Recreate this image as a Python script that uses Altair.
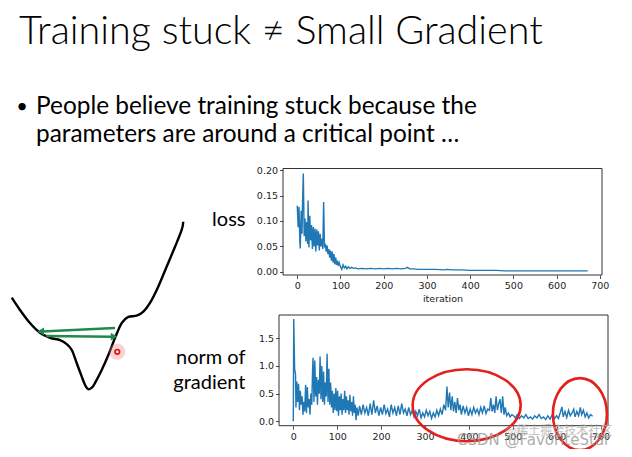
import altair as alt
import pandas as pd

# ---------------- text content ----------------
TITLE = "Training stuck ≠ Small Gradient"
BULLET = "•"
BULLET_LINES = ["People believe training stuck because the",
                "parameters are around a critical point …"]
LOSS_LABEL = "loss"
GRAD_LABEL = ["norm of", "gradient"]
X_TITLE = "iteration"
WATERMARK_1 = "CSDN @FavoriteStar"
WATERMARK_2 = "@稀土掘金技术社区"

# ---------------- loss curve ----------------
loss_iter = [0, 2, 4, 6, 7, 9, 11, 12, 14, 16, 18, 20, 22, 24, 25, 27, 29, 31, 33, 35,
             37, 39, 41, 43, 45, 47, 49, 51, 53, 55, 57, 59, 61, 63, 65, 67, 69, 71, 73, 75,
             77, 79, 81, 83, 85, 87, 89, 91, 93, 95, 97, 100, 103, 106, 109, 112, 115, 118, 122, 126,
             130, 135, 140, 150, 160, 170, 180, 190, 200, 210, 220, 230, 240, 250, 255, 260, 270, 280, 300, 320,
             340, 345, 360, 380, 400, 420, 440, 460, 480, 500, 530, 560, 590, 620, 650, 672]
loss_val = [0.130, 0.088, 0.128, 0.060, 0.046, 0.120, 0.075, 0.127, 0.193, 0.070, 0.105, 0.060, 0.098, 0.055, 0.140, 0.048, 0.110, 0.062, 0.092, 0.045,
            0.088, 0.050, 0.085, 0.040, 0.083, 0.052, 0.080, 0.042, 0.075, 0.050, 0.065, 0.045, 0.137, 0.048, 0.055, 0.040, 0.052, 0.035, 0.045, 0.028,
            0.042, 0.022, 0.040, 0.018, 0.035, 0.015, 0.028, 0.014, 0.022, 0.012, 0.018, 0.010, 0.005, 0.014, 0.008, 0.011, 0.006, 0.010, 0.007, 0.009,
            0.007, 0.008, 0.006, 0.007, 0.006, 0.007, 0.006, 0.007, 0.006, 0.007, 0.006, 0.007, 0.006, 0.007, 0.009, 0.006, 0.006, 0.005, 0.005, 0.005,
            0.004, 0.005, 0.004, 0.004, 0.003, 0.003, 0.003, 0.003, 0.002, 0.002, 0.002, 0.002, 0.002, 0.002, 0.002, 0.002]

# ---------------- gradient-norm curve ----------------
grad_iter = [0, 1, 3, 5, 6, 8, 10, 12, 14, 16, 18, 20, 22, 24, 26, 28, 30, 32, 34, 36,
             38, 40, 42, 44, 45, 47, 49, 51, 53, 55, 57, 59, 61, 63, 65, 67, 69, 71, 73, 75,
             77, 79, 81, 83, 85, 87, 89, 91, 93, 95, 97, 99, 101, 103, 105, 107, 109, 111, 113, 115,
             117, 119, 121, 123, 125, 127, 129, 131, 133, 135, 137, 139, 141, 143, 145, 148, 151, 155, 159, 163,
             167, 171, 175, 179, 183, 187, 191, 195, 199, 203, 207, 211, 215, 219, 223, 227, 231, 235, 239, 243,
             247, 251, 255, 259, 263, 267, 271, 275, 279, 283, 287, 291, 295, 299, 303, 307, 311, 315, 319, 323,
             327, 331, 335, 339, 343, 347, 350, 353, 356, 359, 362, 365, 368, 371, 374, 377, 380, 383, 387, 391,
             395, 399, 403, 407, 411, 415, 419, 423, 427, 431, 435, 439, 443, 447, 450, 453, 456, 459, 462, 465,
             468, 471, 474, 477, 480, 483, 486, 490, 494, 498, 502, 506, 510, 515, 520, 525, 530, 535, 540, 545,
             550, 555, 560, 565, 570, 575, 580, 585, 590, 595, 600, 604, 608, 612, 615, 619, 623, 627, 631, 635,
             639, 642, 646, 650, 654, 657, 661, 665, 669, 673, 677, 682]
grad_val = [0.00, 1.85, 0.95, 0.85, 0.25, 0.72, 0.35, 0.68, 0.20, 0.55, 0.30, 0.45, 0.12, 0.35, 0.18, 0.66, 0.15, 0.62, 0.25, 0.40,
            0.12, 0.50, 0.30, 0.95, 1.15, 0.35, 1.10, 0.45, 0.80, 0.30, 0.75, 0.50, 1.17, 0.40, 1.00, 0.35, 0.90, 0.30, 0.70, 0.45,
            1.22, 0.35, 0.95, 0.30, 0.70, 0.25, 0.55, 0.15, 0.50, 0.20, 0.60, 0.18, 0.55, 0.10, 0.45, 0.20, 0.50, 0.12, 0.40, 0.20,
            0.55, 0.15, 0.45, 0.20, 0.38, 0.12, 0.48, 0.18, 0.35, 0.10, 0.45, 0.15, 0.30, 0.02, 0.25, 0.10, 0.28, 0.12, 0.30, 0.15,
            0.25, 0.10, 0.32, 0.12, 0.38, 0.15, 0.28, 0.10, 0.25, 0.12, 0.30, 0.14, 0.22, 0.08, 0.30, 0.15, 0.25, 0.10, 0.28, 0.12,
            0.32, 0.15, 0.22, 0.10, 0.25, 0.12, 0.20, 0.08, 0.18, 0.10, 0.22, 0.06, 0.15, 0.08, 0.20, 0.10, 0.18, 0.05, 0.15, 0.08,
            0.20, 0.10, 0.22, 0.12, 0.30, 0.20, 0.63, 0.25, 0.52, 0.20, 0.45, 0.18, 0.35, 0.15, 0.42, 0.20, 0.30, 0.12, 0.28, 0.15,
            0.25, 0.10, 0.22, 0.12, 0.25, 0.15, 0.22, 0.12, 0.25, 0.15, 0.28, 0.14, 0.22, 0.20, 0.42, 0.18, 0.30, 0.15, 0.45, 0.20,
            0.32, 0.40, 0.15, 0.45, 0.12, 0.25, 0.10, 0.15, 0.08, 0.12, 0.10, 0.06, 0.12, 0.05, 0.10, 0.06, 0.12, 0.05, 0.08, 0.04,
            0.10, 0.06, 0.12, 0.05, 0.08, 0.03, 0.10, 0.04, 0.12, 0.05, 0.10, 0.05, 0.15, 0.26, 0.08, 0.18, 0.07, 0.20, 0.10, 0.15,
            0.22, 0.08, 0.18, 0.10, 0.25, 0.12, 0.20, 0.08, 0.15, 0.06, 0.12, 0.09]

# ---------------- axis ticks / domains ----------------
x_ticks = [0, 100, 200, 300, 400, 500, 600, 700]
loss_ticks = [0.00, 0.05, 0.10, 0.15, 0.20]
grad_ticks = [0.0, 0.5, 1.0, 1.5]
LOSS_X_DOMAIN = [-33, 705]
LOSS_Y_DOMAIN = [-0.006, 0.203]
GRAD_X_DOMAIN = [-32.6, 717]
GRAD_Y_DOMAIN = [-0.08, 1.922]

# ---------------- hand-drawn loss-landscape sketch ----------------
sketch_w = [0.10, 0.57, 1.14, 1.71, 2.29, 2.86, 3.24, 3.53, 3.81, 4.10, 4.29, 4.47, 4.69, 4.86,
            5.24, 5.62, 6.00, 6.38, 6.76, 7.24, 7.62, 8.00, 8.47, 8.95, 9.43, 9.81, 9.90]
sketch_l = [5.56, 4.86, 4.11, 3.56, 3.27, 3.14, 2.91, 2.57, 1.83, 1.05, 0.57, 0.33, 0.43, 0.69,
            1.43, 2.29, 3.26, 4.11, 4.46, 4.53, 4.76, 5.26, 6.19, 7.33, 8.47, 9.43, 9.90]
arrow_w0 = [6.00, 2.06]
arrow_w1 = [1.83, 5.85]
arrow_l0 = [3.83, 3.37]
arrow_l1 = [3.63, 3.33]
head_w = [1.75, 5.95]
head_l = [3.63, 3.33]
head_shape = ["triangle-left", "triangle-right"]
point_w = [6.13]
point_l = [2.47]

# ellipse annotations on gradient chart (center in data units)
ell_iter = [395, 653]
ell_val = [0.29, 0.13]
ell_shape = ["M -1.5 0 A 1.5 1 0 1 1 1.5 0 A 1.5 1 0 1 1 -1.5 0 Z",
             "M -0.75 0 A 0.75 1 0 1 1 0.75 0 A 0.75 1 0 1 1 -0.75 0 Z"]

W, H = 616, 441
BLUE = "#1f77b4"
GREEN = "#1f8a4c"
FRAME = "#333333"
TXT = "#000000"
SLIDE_FONT = "Lato"
TICK_FONT = "DejaVu Sans"

def axis_common(**kw):
    base = dict(grid=False, domain=False, tickColor="#222", tickSize=3.5, tickWidth=0.8,
                labelFont=TICK_FONT, labelFontSize=9.5, labelColor="#222", labelPadding=2)
    base.update(kw)
    return alt.Axis(**base)

# ---------------- loss panel ----------------
loss_df = pd.DataFrame({"iteration": loss_iter, "loss": loss_val})
lx = alt.Scale(domain=LOSS_X_DOMAIN, range=[275, 594], nice=False, zero=False)
ly = alt.Scale(domain=LOSS_Y_DOMAIN, range=[267, 160.5], nice=False, zero=False)
loss_xaxis = axis_common(orient="bottom", offset=267 - H, values=x_ticks, format="d",
                         title=X_TITLE, titleFont=TICK_FONT, titleFontSize=9.5,
                         titleFontWeight="normal", titleColor="#222", titlePadding=3)
loss_yaxis = axis_common(orient="left", offset=-275, values=loss_ticks, format=".2f",
                         title=LOSS_LABEL, titleAngle=0, titleX=-38, titleY=217,
                         titleAlign="right", titleBaseline="alphabetic",
                         titleFont=SLIDE_FONT, titleFontSize=20, titleFontWeight="normal",
                         titleColor=TXT)
loss_frame_df = pd.DataFrame({"x0": [LOSS_X_DOMAIN[0]], "x1": [LOSS_X_DOMAIN[1]],
                              "y0": [LOSS_Y_DOMAIN[0]], "y1": [LOSS_Y_DOMAIN[1]]})
loss_frame = alt.Chart(loss_frame_df).mark_rect(fillOpacity=0, stroke=FRAME, strokeWidth=1).encode(
    x=alt.X("x0:Q", scale=lx, axis=loss_xaxis), x2="x1:Q",
    y=alt.Y("y0:Q", scale=ly, axis=loss_yaxis), y2="y1:Q")
loss_line = alt.Chart(loss_df).mark_line(color=BLUE, strokeWidth=1.4).encode(
    x=alt.X("iteration:Q", scale=lx, axis=loss_xaxis),
    y=alt.Y("loss:Q", scale=ly, axis=loss_yaxis))
loss_panel = alt.layer(loss_frame, loss_line)

# ---------------- gradient panel ----------------
grad_df = pd.DataFrame({"iteration": grad_iter, "grad": grad_val})
gx = alt.Scale(domain=GRAD_X_DOMAIN, range=[271, 600], nice=False, zero=False)
gy = alt.Scale(domain=GRAD_Y_DOMAIN, range=[417.7, 307], nice=False, zero=False)
grad_xaxis = axis_common(orient="bottom", offset=417.7 - H, values=x_ticks, format="d", title=None)
grad_yaxis = axis_common(orient="left", offset=-271, values=grad_ticks, format=".1f",
                         title=GRAD_LABEL, titleAngle=0, titleX=-34, titleY=355,
                         titleAlign="right", titleBaseline="alphabetic", titleLineHeight=25,
                         titleFont=SLIDE_FONT, titleFontSize=20, titleFontWeight="normal",
                         titleColor=TXT)
grad_frame_df = pd.DataFrame({"x0": [GRAD_X_DOMAIN[0]], "x1": [GRAD_X_DOMAIN[1]],
                              "y0": [GRAD_Y_DOMAIN[0]], "y1": [GRAD_Y_DOMAIN[1]]})
grad_frame = alt.Chart(grad_frame_df).mark_rect(fillOpacity=0, stroke=FRAME, strokeWidth=1).encode(
    x=alt.X("x0:Q", scale=gx, axis=grad_xaxis), x2="x1:Q",
    y=alt.Y("y0:Q", scale=gy, axis=grad_yaxis), y2="y1:Q")
grad_line = alt.Chart(grad_df).mark_line(color=BLUE, strokeWidth=1.4).encode(
    x=alt.X("iteration:Q", scale=gx, axis=grad_xaxis),
    y=alt.Y("grad:Q", scale=gy, axis=grad_yaxis))
ell_df = pd.DataFrame({"iteration": ell_iter, "grad": ell_val, "shape": ell_shape})
ellipses = alt.Chart(ell_df).mark_point(filled=False, stroke="#e3201b", strokeWidth=2.6,
                                        size=5184, opacity=1).encode(
    x=alt.X("iteration:Q", scale=gx, axis=grad_xaxis),
    y=alt.Y("grad:Q", scale=gy, axis=grad_yaxis),
    shape=alt.Shape("shape:N", scale=None, legend=None))
grad_panel = alt.layer(grad_frame, grad_line, ellipses)

# ---------------- sketch ----------------
sx = alt.Scale(domain=[0, 10], range=[2, 177], nice=False, zero=False)
sy = alt.Scale(domain=[0, 10], range=[387, 212], nice=False, zero=False)
sketch_df = pd.DataFrame({"w": sketch_w, "l": sketch_l, "o": list(range(len(sketch_w)))})
curve = alt.Chart(sketch_df).mark_line(color="black", strokeWidth=2.4, interpolate="cardinal").encode(
    x=alt.X("w:Q", scale=sx, axis=None), y=alt.Y("l:Q", scale=sy, axis=None), order="o:Q")
arrow_df = pd.DataFrame({"w0": arrow_w0, "w1": arrow_w1, "l0": arrow_l0, "l1": arrow_l1})
arrows = alt.Chart(arrow_df).mark_rule(color=GREEN, strokeWidth=2.6).encode(
    x=alt.X("w0:Q", scale=sx, axis=None), x2="w1:Q",
    y=alt.Y("l0:Q", scale=sy, axis=None), y2="l1:Q")
head_df = pd.DataFrame({"w": head_w, "l": head_l, "s": head_shape})
heads = alt.Chart(head_df).mark_point(filled=True, color=GREEN, size=60, opacity=1).encode(
    x=alt.X("w:Q", scale=sx, axis=None), y=alt.Y("l:Q", scale=sy, axis=None),
    shape=alt.Shape("s:N", scale=None, legend=None))
pt_df = pd.DataFrame({"w": point_w, "l": point_l})
halo = alt.Chart(pt_df).mark_point(filled=True, color="#f08080", size=260, opacity=0.35).encode(
    x=alt.X("w:Q", scale=sx, axis=None), y=alt.Y("l:Q", scale=sy, axis=None))
dot = alt.Chart(pt_df).mark_point(filled=False, color="#e01010", size=22, strokeWidth=1.6, opacity=1).encode(
    x=alt.X("w:Q", scale=sx, axis=None), y=alt.Y("l:Q", scale=sy, axis=None))
sketch = alt.layer(curve, arrows, heads, halo, dot)

# ---------------- slide texts ----------------
title = alt.Chart(pd.DataFrame({"t": [TITLE]})).mark_text(
    align="left", baseline="alphabetic", font=SLIDE_FONT, fontSize=39.5, fontWeight=300, color=TXT).encode(
    x=alt.value(11), y=alt.value(36), text="t:N")
bullet = alt.Chart(pd.DataFrame({"t": [BULLET]})).mark_text(
    align="center", baseline="alphabetic", font=SLIDE_FONT, fontSize=20, color=TXT).encode(
    x=alt.value(14), y=alt.value(105), text="t:N")
body = alt.Chart(pd.DataFrame({"t": [BULLET_LINES]})).mark_text(
    align="left", baseline="alphabetic", font=SLIDE_FONT, fontSize=24.4, lineHeight=28, color=TXT).encode(
    x=alt.value(28), y=alt.value(106), text="t")
wm1 = alt.Chart(pd.DataFrame({"t": [WATERMARK_1]})).mark_text(
    align="left", baseline="middle", font="DejaVu Sans", fontSize=15, color="#9a9a9a", opacity=0.8).encode(
    x=alt.value(449), y=alt.value(432), text="t:N")
wm2 = alt.Chart(pd.DataFrame({"t": [WATERMARK_2]})).mark_text(
    align="left", baseline="middle", font="Noto Sans CJK SC", fontSize=12, color="#b0b0b0", opacity=0.8).encode(
    x=alt.value(497), y=alt.value(423), text="t:N")

chart = alt.layer(sketch, loss_panel, grad_panel, title, bullet, body, wm1, wm2).resolve_scale(
    x="independent", y="independent"
).properties(
    width=W, height=H, autosize=alt.AutoSizeParams(type="none"), padding=0
).configure_view(strokeWidth=0)

chart.save("out.html", embed_options={"renderer": "svg", "actions": False})
